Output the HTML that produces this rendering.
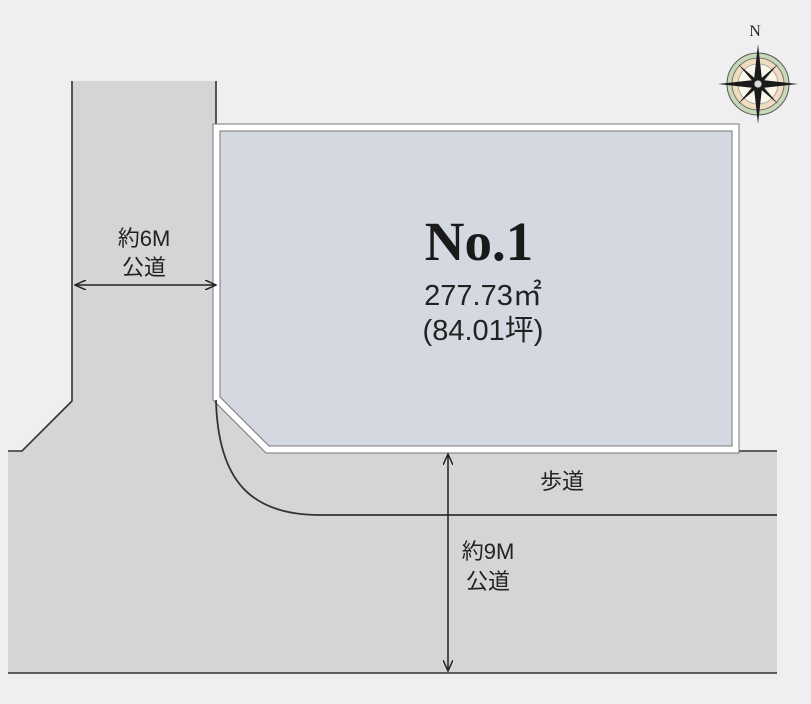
<!DOCTYPE html>
<html><head><meta charset="utf-8"><style>
html,body{margin:0;padding:0;background:#efeff1;}
svg{display:block}
text{font-family:"Liberation Sans","Noto Sans CJK JP",sans-serif;fill:#222}
</style></head><body>
<svg width="811" height="704" viewBox="0 0 811 704" xmlns="http://www.w3.org/2000/svg">
<defs>
<marker id="ah" markerWidth="12" markerHeight="10" refX="11" refY="5" orient="auto-start-reverse" markerUnits="userSpaceOnUse">
<path d="M0,0 L11,5 L0,10" fill="none" stroke="#222" stroke-width="1.5"/>
</marker>
</defs>
<rect width="811" height="704" fill="#efeff1"/>
<path d="M72,81 L216,81 L216,451 L777,451 L777,673 L8,673 L8,451 L22,451 L72,401 Z" fill="#d5d5d7"/>
<rect x="210" y="380" width="80" height="75" fill="#d5d5d7"/>
<path d="M72,81 L72,401 L22,451 L8,451" fill="none" stroke="#333" stroke-width="1.6"/>
<path d="M216,81 L216,125" fill="none" stroke="#333" stroke-width="1.6"/>
<path d="M738,451 L777,451" stroke="#333" stroke-width="1.6"/>
<path d="M8,673 L777,673" stroke="#333" stroke-width="1.6"/>
<path d="M213,124 L739,124 L739,453 L266,453 L213,400 Z" fill="#fff" stroke="#777" stroke-width="1"/>
<path d="M220,131 L732,131 L732,446 L269,446 L220,397 Z" fill="#d4d8e0" stroke="#777" stroke-width="1"/>
<path d="M216,400 C218,480 250,515 320,515 L777,515" fill="none" stroke="#333" stroke-width="1.8"/>
<line x1="75" y1="285" x2="216" y2="285" stroke="#222" stroke-width="1.5" marker-start="url(#ah)" marker-end="url(#ah)"/>
<line x1="448" y1="454" x2="448" y2="671" stroke="#222" stroke-width="1.5" marker-start="url(#ah)" marker-end="url(#ah)"/>
<text x="479" y="260" text-anchor="middle" style="font-family:'Liberation Serif',serif;font-weight:bold;font-size:55px;fill:#1a1a1a">No.1</text>
<text x="483" y="305" text-anchor="middle" font-size="29">277.73㎡</text>
<text x="483" y="340" text-anchor="middle" font-size="29">(84.01坪)</text>
<text x="144" y="246" text-anchor="middle" font-size="22">約6M</text>
<text x="144" y="275" text-anchor="middle" font-size="22">公道</text>
<text x="562" y="489" text-anchor="middle" font-size="22">歩道</text>
<text x="488" y="559" text-anchor="middle" font-size="22">約9M</text>
<text x="488" y="589" text-anchor="middle" font-size="22">公道</text>
<g transform="translate(758,84)">
<circle r="31" fill="#c9d8b8" stroke="#555" stroke-width="1"/>
<circle r="26" fill="#f1dcc0" stroke="#777" stroke-width="1"/>
<circle r="20" fill="#fbf6ea" stroke="#999" stroke-width="0.8"/>
<path d="M0,-40 L4,-4 L40,0 L4,4 L0,40 L-4,4 L-40,0 L-4,-4 Z" fill="#1a1a1a"/>
<path d="M20,-20 L3,0 L20,20 L0,3 L-20,20 L-3,0 L-20,-20 L0,-3 Z" fill="#1a1a1a"/>
<circle r="4" fill="#ddd" stroke="#333"/>
<text x="-3" y="-48" text-anchor="middle" style="font-family:'Liberation Serif',serif;font-size:16px">N</text>
</g>
</svg>
</body></html>
